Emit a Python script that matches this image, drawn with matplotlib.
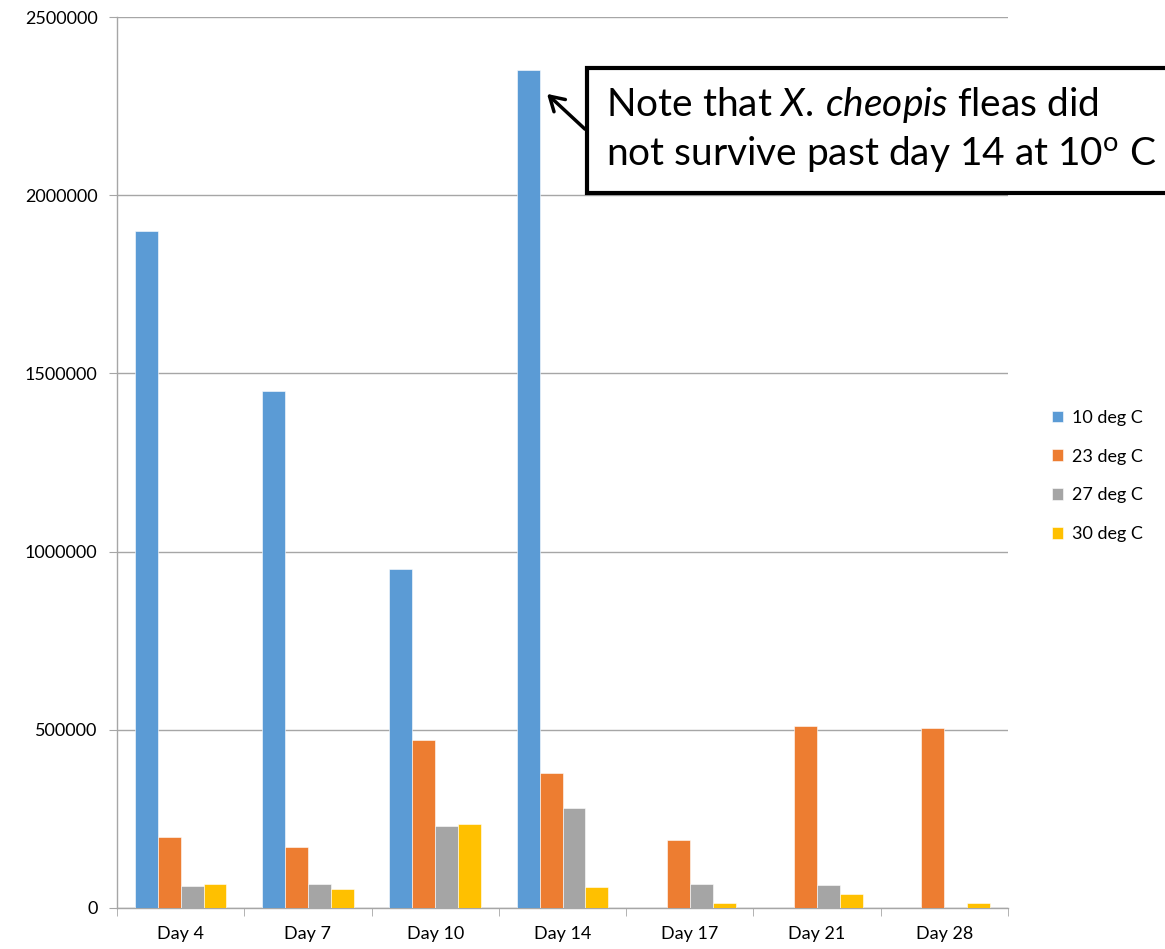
import numpy as np
import matplotlib.pyplot as plt
from matplotlib.patches import Rectangle, FancyArrowPatch

plt.rcParams['font.family'] = ['Lato', 'DejaVu Sans']
plt.rcParams['mathtext.fontset'] = 'custom'
plt.rcParams['mathtext.rm'] = 'Lato'
plt.rcParams['mathtext.it'] = 'Lato:italic'

# datos
days = ['Day 4', 'Day 7', 'Day 10', 'Day 14', 'Day 17', 'Day 21', 'Day 28']
series = ['10 deg C', '23 deg C', '27 deg C', '30 deg C']
t10 = [1900000, 1450000, 950000, 2350000, 0, 0, 0]
t23 = [200000, 170000, 470000, 380000, 190000, 510000, 505000]
t27 = [63000, 67000, 230000, 280000, 66000, 65000, 0]
t30 = [68000, 53000, 235000, 58000, 13000, 38000, 13000]
colors = ['#5B9BD5', '#ED7D31', '#A5A5A5', '#FFC000']

W, H = 1165, 949
fig = plt.figure(figsize=(W/100, H/100), dpi=100)

def fx(px):
    return px / W

def fy(py):
    return 1 - py / H

ax = fig.add_axes([fx(117), fy(908), fx(1008) - fx(117), fy(17) - fy(908)])

x = np.arange(len(days))
bw = 0.18
for i, (vals, lab) in enumerate(zip([t10, t23, t27, t30], series)):
    ax.bar(x - 1.5*bw + i*bw, vals, bw, color=colors[i], label=lab,
           edgecolor='white', linewidth=0.4, zorder=3)

ax.set_xlim(-0.5, len(days) - 0.5)
ax.set_ylim(0, 2500000)
ax.set_yticks(np.arange(0, 2500001, 500000))
ax.set_yticklabels([str(v) for v in range(0, 2500001, 500000)])
ax.grid(axis='y', color='#a6a6a6', linewidth=1, zorder=0)

ax.set_xticks(x)
ax.set_xticklabels(days)
ax.set_xticks(np.arange(-0.5, len(days)), minor=True)
ax.tick_params(axis='x', which='major', length=0, pad=13, labelsize=13)
ax.tick_params(axis='x', which='minor', length=6, color='#a6a6a6')
ax.tick_params(axis='y', length=6, color='#a6a6a6', labelsize=13, pad=8)

for s in ['top', 'right']:
    ax.spines[s].set_visible(False)
for s in ['left', 'bottom']:
    ax.spines[s].set_color('#a6a6a6')
    ax.spines[s].set_linewidth(1)

fig.legend(loc='center left', bbox_to_anchor=(fx(1043), fy(476)), frameon=False,
           fontsize=13, handlelength=0.6, handleheight=0.6, handletextpad=0.5,
           labelspacing=1.27, borderpad=0)

# recuadro de la nota
box = Rectangle((fx(587), fy(193)), fx(1175) - fx(587), fy(68) - fy(193),
                transform=fig.transFigure, facecolor='white', edgecolor='black',
                linewidth=3, clip_on=False, zorder=10)
fig.patches.append(box)
fig.text(fx(606), fy(105), r'Note that $\mathit{X.\,cheopis}$ fleas did',
         fontsize=28, va='center', ha='left', zorder=11)
fig.text(fx(606), fy(154), r'not survive past day 14 at 10$^\mathrm{o}$ C',
         fontsize=28, va='center', ha='left', zorder=11)
fig.patches.append(FancyArrowPatch(
    (fx(587), fy(131)), (fx(545), fy(92)), transform=fig.transFigure,
    arrowstyle='->,head_length=10,head_width=6', color='black', linewidth=2.5,
    mutation_scale=1, zorder=11))

fig.savefig('out.png', dpi=100)
